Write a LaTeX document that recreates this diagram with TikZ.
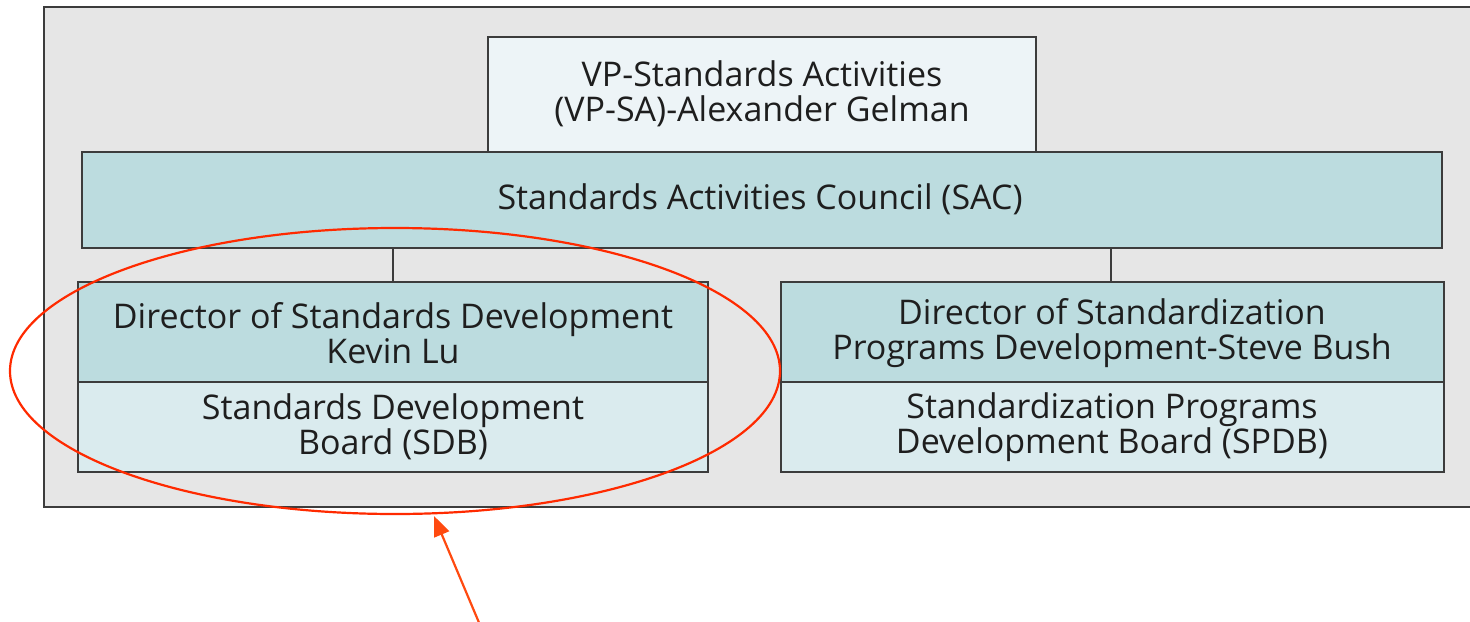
\documentclass[tikz,border=0pt]{standalone}
\usepackage{fontspec}
\setmainfont{Open Sans}
\usetikzlibrary{arrows.meta}
\definecolor{framegray}{HTML}{E6E6E6}
\definecolor{edgegray}{HTML}{3C3C3C}
\definecolor{vpfill}{HTML}{EDF4F7}
\definecolor{darkteal}{HTML}{BCDCDF}
\definecolor{lightteal}{HTML}{DAEBEE}
\definecolor{markred}{HTML}{FF2A00}
\definecolor{arrowred}{HTML}{FF4A10}
\definecolor{txt}{HTML}{1E1E1E}
\begin{document}
\begin{tikzpicture}[x=0.5pt,y=-0.5pt,
  boxline/.style={draw=edgegray,line width=1.2pt},
  lbl/.style={text=txt,font=\fontsize{17}{17.5}\selectfont,align=center},
  conn/.style={draw=edgegray,line width=1pt}]
\useasboundingbox (0,0) rectangle (1470,621);
% outer frame
\fill[framegray] (44,7) rectangle (1480,507);
\draw[edgegray,line width=1.2pt] (1480,7) -- (44,7) -- (44,507) -- (1480,507);
% boxes
\draw[boxline,fill=vpfill] (488,37) rectangle (1036,152);
\node[lbl] (vp) at (762,94) {VP-Standards Activities\\(VP-SA)-Alexander Gelman};
\draw[boxline,fill=darkteal] (82,152) rectangle (1442,248);
\node[lbl] (sac) at (760,199) {Standards Activities Council (SAC)};
\coordinate (sacL) at (393,248);
\coordinate (sacR) at (1111,248);
\draw[boxline,fill=darkteal] (78,282) rectangle (708,382);
\draw[boxline,fill=lightteal] (78,382) rectangle (708,472);
\coordinate (dsdTop) at (393,282);
\node[lbl] (dsd) at (393,333) {Director of Standards Development\\Kevin Lu};
\node[lbl] (sdb) at (393,427) {Standards Development\\Board (SDB)};
\draw[boxline,fill=darkteal] (781,282) rectangle (1444,382);
\draw[boxline,fill=lightteal] (781,382) rectangle (1444,472);
\coordinate (dspTop) at (1111,282);
\node[lbl] (dsp) at (1112,333) {Director of Standardization\\Programs Development-Steve Bush};
\node[lbl] (spdb) at (1112,427) {Standardization Programs\\Development Board (SPDB)};
\draw[conn] (sacL) -- (dsdTop);
\draw[conn] (sacR) -- (dspTop);
% annotation
\draw[markred,line width=1.1pt] (395,371) ellipse [x radius=385,y radius=143];
\coordinate (tail) at (480,625);
\coordinate (tip) at (434,516);
\draw[arrowred,line width=1.1pt,-{Triangle[length=10pt,width=8pt]}] (tail) -- (tip);
\end{tikzpicture}
\end{document}
